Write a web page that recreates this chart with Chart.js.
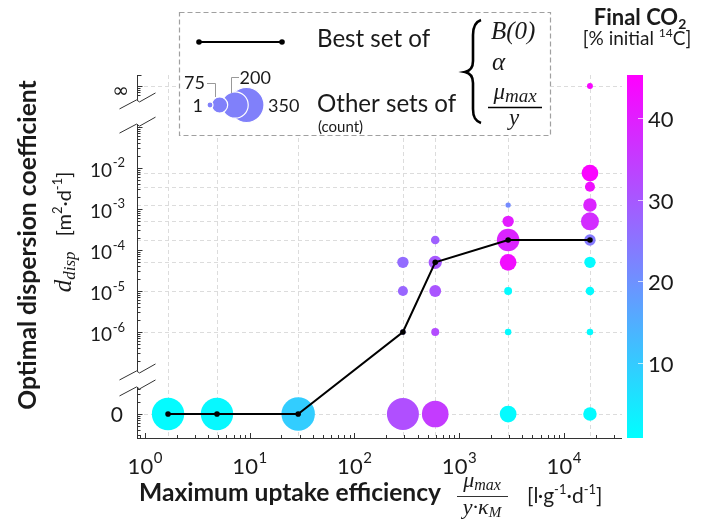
<!DOCTYPE html>
<html>
<head>
<meta charset="utf-8">
<script src="https://cdn.jsdelivr.net/npm/chart.js@4.4.1/dist/chart.umd.min.js"></script>
<style>
  html, body { margin: 0; padding: 0; background: #fff; }
  canvas { display: block; }
</style>
</head>
<body>
<canvas id="c" width="702" height="524"></canvas>
<script>
// uptake efficiency columns + best-fit dispersion coefficient (0 = none, Infinity = inf)
const effX = [1.66, 4.87, 29, 290, 590, 2930, 17700];
const bestD = [0, 0, 0, 1e-6, 5e-5, 1.75e-4, 1.75e-4];

// other parameter sets: position, count and final CO2 (% of initial 14C)
const setX = [1.66, 4.87, 29,
  290, 290, 290, 290,
  590, 590, 590, 590, 590,
  2930, 2930, 2930, 2930, 2930, 2930, 2930,
  17700, 17700, 17700, 17700, 17700, 17700, 17700, 17700, 17700, 17700];
const setD = [0, 0, 0,
  0, 1e-6, 1e-5, 5e-5,
  0, 1e-6, 1e-5, 5e-5, 1.75e-4,
  0, 1e-6, 1e-5, 5e-5, 1.75e-4, 5e-4, 1.25e-3,
  0, 1e-6, 1e-5, 5e-5, 1.75e-4, 5e-4, 1.25e-3, 3.5e-3, 7.5e-3, Infinity];
const setCount = [300, 300, 320,
  293, 8, 29, 37,
  203, 18, 40, 50, 21,
  80, 12, 18, 80, 145, 37, 8,
  52, 12, 21, 37, 37, 93, 52, 29, 80, 10];
const setCO2 = [1.5, 2.0, 9.5,
  31.5, 24, 27.5, 26.5,
  35, 32, 30.5, 30, 28.5,
  1.5, 1.5, 1.5, 43, 39, 40.5, 21,
  1.5, 1.5, 1.5, 1.5, 24, 37.5, 39, 42.5, 44.5, 44];

const xDecades = [0, 1, 2, 3, 4];
const yDecades = [-2, -3, -4, -5, -6];
const co2Ticks = [10, 20, 30, 40];
const co2Min = 0.8, co2Max = 45.3;
const legendCounts = [350, 200, 75, 1];

const SANS = 'Lato, "Open Sans", sans-serif';
const SERIF = '"Liberation Serif", "DejaVu Serif", serif';

// broken axis: d=0 sits at -8, d=inf at 0, others at log10(d)
function yPos(d) {
  if (d === 0) return -8;
  if (!isFinite(d)) return 0;
  return Math.log10(d);
}
function rOf(n) { return Math.max(2.5, 0.935 * Math.sqrt(n)); }
function cool(v) {
  let t = (v - co2Min) / (co2Max - co2Min);
  t = Math.max(0, Math.min(1, t));
  return 'rgb(' + Math.round(255 * t) + ',' + Math.round(255 * (1 - t)) + ',255)';
}

function rich(ctx, parts, x, y, align) {
  let w = 0;
  parts.forEach(p => { ctx.font = p[1]; w += ctx.measureText(p[0]).width; });
  let cx = align === 'center' ? x - w / 2 : align === 'right' ? x - w : x;
  ctx.textAlign = 'left';
  ctx.textBaseline = 'alphabetic';
  parts.forEach(p => {
    ctx.font = p[1];
    ctx.fillText(p[0], cx, y + (p[2] || 0));
    cx += ctx.measureText(p[0]).width;
  });
  return w;
}
function fitSize(ctx, s, weight, target) {
  ctx.font = weight + ' 20px ' + SANS;
  return 20 * target / ctx.measureText(s).width;
}
function pow10(ctx, e, x, y, size, align) {
  const es = Math.round(size * 0.68);
  rich(ctx, [['10', size + 'px ' + SANS], [' ', '2px ' + SANS], [String(e), es + 'px ' + SANS, -size * 0.5]], x, y, align);
}
function seg(ctx, x1, y1, x2, y2) {
  ctx.beginPath(); ctx.moveTo(x1, y1); ctx.lineTo(x2, y2); ctx.stroke();
}

const yGaps = [[-0.34, -0.93], [-6.95, -7.34]];

const gridPlugin = {
  id: 'grid',
  beforeDatasetsDraw(chart) {
    const ctx = chart.ctx, xs = chart.scales.x, ys = chart.scales.y, a = chart.chartArea;
    ctx.save();
    ctx.strokeStyle = '#dcdcdc';
    ctx.lineWidth = 1;
    ctx.setLineDash([4, 3]);
    const rows = [...new Set(setD.concat(bestD).map(yPos))];
    rows.forEach(u => {
      const py = Math.round(ys.getPixelForValue(u)) + 0.5;
      seg(ctx, a.left, py, a.right, py);
    });
    effX.forEach(x => {
      const px = Math.round(xs.getPixelForValue(x)) + 0.5;
      seg(ctx, px, a.top, px, a.bottom);
    });
    ctx.restore();
  }
};

const decor = {
  id: 'decor',
  afterDraw(chart) {
    const ctx = chart.ctx, xs = chart.scales.x, ys = chart.scales.y, a = chart.chartArea;
    ctx.save();
    ctx.strokeStyle = '#333';
    ctx.fillStyle = '#1a1a1a';
    ctx.lineWidth = 1;

    // x axis + log ticks
    seg(ctx, a.left, a.bottom + 0.5, a.right, a.bottom + 0.5);
    for (let e = -1; e <= 4; e++) {
      for (let k = 1; k <= 9; k++) {
        const v = k * Math.pow(10, e);
        if (v < xs.min || v > xs.max) continue;
        const px = Math.round(xs.getPixelForValue(v)) + 0.5;
        seg(ctx, px, a.bottom, px, a.bottom - (k === 1 ? 5 : 3));
      }
    }
    xDecades.forEach(e => pow10(ctx, e, xs.getPixelForValue(Math.pow(10, e)), 474, 22, 'center'));

    // y axis with breaks
    const ax = a.left + 0.5;
    const gapPx = yGaps.map(g => [ys.getPixelForValue(g[0]), ys.getPixelForValue(g[1])]);
    seg(ctx, ax, a.top, ax, gapPx[0][0]);
    seg(ctx, ax, gapPx[0][1], ax, gapPx[1][0]);
    seg(ctx, ax, gapPx[1][1], ax, a.bottom + 0.5);
    seg(ctx, ax, a.top + 0.5, ax + 4, a.top + 0.5);
    for (let e = -9; e <= 0; e++) {
      for (let k = 1; k <= 9; k++) {
        const u = e + Math.log10(k);
        if (u > ys.max || u < ys.min) continue;
        if (yGaps.some(g => u < g[0] + 0.05 && u > g[1] - 0.05)) continue;
        const py = Math.round(ys.getPixelForValue(u)) + 0.5;
        seg(ctx, ax, py, ax + (k === 1 ? 5 : 3), py);
      }
    }
    gapPx.forEach(g => {
      g.forEach(py => {
        ctx.beginPath();
        ctx.moveTo(ax - 18, py + 9);
        ctx.lineTo(ax - 1, py);
        ctx.lineTo(ax + 2, py + 2);
        ctx.lineTo(ax + 18, py - 7);
        ctx.stroke();
      });
    });
    yDecades.forEach(e => pow10(ctx, e, 125, ys.getPixelForValue(e) + 9, 19, 'right'));
    ctx.font = '21px ' + SANS;
    ctx.textAlign = 'right';
    ctx.textBaseline = 'alphabetic';
    ctx.fillText('0', 123, ys.getPixelForValue(yPos(0)) + 8);
    ctx.font = '20px "DejaVu Sans", sans-serif';
    ctx.textBaseline = 'middle';
    ctx.fillText('\u221e', 129, ys.getPixelForValue(yPos(Infinity)) + 6);

    // axis titles
    let fs = fitSize(ctx, 'Maximum uptake efficiency', 'bold', 302);
    rich(ctx, [['Maximum uptake efficiency', 'bold ' + fs.toFixed(1) + 'px ' + SANS]], 139, 501, 'left');
    rich(ctx, [['\u03bc', 'italic 22px ' + SERIF], ['max', 'italic 16px ' + SERIF, 3]], 482, 487, 'center');
    ctx.lineWidth = 1.2;
    seg(ctx, 457, 496.5, 508, 496.5);
    rich(ctx, [['y\u00b7\u03ba', 'italic 22px ' + SERIF], ['M', 'italic 15px ' + SERIF, 3]], 482, 514, 'center');
    rich(ctx, [['[l\u00b7g', '21px ' + SANS], ['-1', '13px ' + SANS, -9], ['\u00b7d', '21px ' + SANS], ['-1', '13px ' + SANS, -9], [']', '21px ' + SANS]], 527, 503, 'left');

    fs = fitSize(ctx, 'Optimal dispersion coefficient', 'bold', 330);
    ctx.save();
    ctx.translate(36, 245);
    ctx.rotate(-Math.PI / 2);
    rich(ctx, [['Optimal dispersion coefficient', 'bold ' + fs.toFixed(1) + 'px ' + SANS]], 0, 0, 'center');
    ctx.restore();
    ctx.save();
    ctx.translate(71, 232);
    ctx.rotate(-Math.PI / 2);
    rich(ctx, [['d', 'italic 25px ' + SERIF], ['disp', 'italic 17px ' + SERIF, 4], ['   [m', '20px ' + SANS],
      ['2', '13px ' + SANS, -9], ['\u00b7d', '20px ' + SANS], ['-1', '13px ' + SANS, -9], [']', '20px ' + SANS]], 0, 0, 'center');
    ctx.restore();

    // legend box
    ctx.fillStyle = '#fff';
    ctx.fillRect(179, 12, 372, 124);
    ctx.setLineDash([5, 3]);
    ctx.strokeStyle = '#a0a0a0';
    ctx.lineWidth = 1.2;
    ctx.strokeRect(179.5, 12.5, 371, 123);
    ctx.setLineDash([]);
    ctx.strokeStyle = '#000';
    ctx.lineWidth = 2;
    seg(ctx, 199, 42, 282, 42);
    ctx.fillStyle = '#000';
    [199, 282].forEach(x => { ctx.beginPath(); ctx.arc(x, 42, 2.8, 0, Math.PI * 2); ctx.fill(); });
    ctx.fillStyle = '#1a1a1a';
    fs = fitSize(ctx, 'Best set of', '', 113);
    rich(ctx, [['Best set of', fs.toFixed(1) + 'px ' + SANS]], 317, 47, 'left');
    rich(ctx, [['Other sets of', fs.toFixed(1) + 'px ' + SANS]], 317, 112, 'left');
    rich(ctx, [['(count)', '15px ' + SANS]], 318, 132, 'left');

    // bubble size key
    const keyX = { 350: 246.5, 200: 235, 75: 219.6, 1: 210 };
    legendCounts.forEach(n => {
      ctx.beginPath();
      ctx.arc(keyX[n], 105, n === 1 ? 3 : rOf(n), 0, Math.PI * 2);
      ctx.fillStyle = 'rgb(128,128,250)';
      ctx.fill();
      ctx.strokeStyle = '#fff';
      ctx.lineWidth = 1.2;
      ctx.stroke();
    });
    ctx.strokeStyle = '#999';
    ctx.lineWidth = 1;
    ctx.beginPath(); ctx.moveTo(207, 83.5); ctx.lineTo(215.5, 83.5); ctx.lineTo(215.5, 97); ctx.stroke();
    ctx.beginPath(); ctx.moveTo(239, 77.5); ctx.lineTo(231.5, 77.5); ctx.lineTo(231.5, 93); ctx.stroke();
    ctx.fillStyle = '#1a1a1a';
    rich(ctx, [['75', '18px ' + SANS]], 205, 89, 'right');
    rich(ctx, [['200', '18px ' + SANS]], 239.5, 84, 'left');
    rich(ctx, [['1', '18px ' + SANS]], 203, 112, 'right');
    rich(ctx, [['350', '18px ' + SANS]], 268, 112, 'left');

    // brace + parameter names
    ctx.strokeStyle = '#000';
    ctx.lineWidth = 2.6;
    ctx.beginPath();
    ctx.moveTo(481, 20);
    ctx.bezierCurveTo(475, 22, 473, 27, 473, 35);
    ctx.lineTo(473, 61);
    ctx.bezierCurveTo(473, 68, 470, 71, 465, 72);
    ctx.bezierCurveTo(470, 73, 473, 76, 473, 83);
    ctx.lineTo(473, 109);
    ctx.bezierCurveTo(473, 117, 475, 121, 481, 123);
    ctx.stroke();
    ctx.fillStyle = '#1a1a1a';
    rich(ctx, [['B(0)', 'italic 25px ' + SERIF]], 491, 39, 'left');
    rich(ctx, [['\u03b1', 'italic 25px ' + SERIF]], 492, 70, 'left');
    rich(ctx, [['\u03bc', 'italic 23px ' + SERIF], ['max', 'italic 19px ' + SERIF, 3]], 515, 99, 'center');
    ctx.lineWidth = 1.3;
    seg(ctx, 488, 107.5, 542, 107.5);
    rich(ctx, [['y', 'italic 23px ' + SERIF]], 514, 125, 'center');

    // colour bar
    const cx0 = 627, cw = 16;
    const grad = ctx.createLinearGradient(0, a.bottom, 0, a.top);
    grad.addColorStop(0, cool(co2Min));
    grad.addColorStop(1, cool(co2Max));
    ctx.fillStyle = grad;
    ctx.fillRect(cx0, a.top, cw, a.bottom - a.top);
    ctx.strokeStyle = 'rgba(255,255,255,0.7)';
    ctx.lineWidth = 1;
    ctx.fillStyle = '#1a1a1a';
    co2Ticks.forEach(v => {
      const py = Math.round(a.bottom - (v - co2Min) / (co2Max - co2Min) * (a.bottom - a.top)) + 0.5;
      seg(ctx, cx0 + cw - 5, py, cx0 + cw, py);
      rich(ctx, [[String(v), '22px ' + SANS]], 648, py + 8, 'left');
    });
    rich(ctx, [['Final CO', 'bold 22px ' + SANS], ['2', 'bold 14px ' + SANS, 4]], 640, 25, 'center');
    rich(ctx, [['[% initial ', '19px ' + SANS], ['14', '12px ' + SANS, -8], ['C]', '19px ' + SANS]], 637, 45, 'center');
    ctx.restore();
  }
};

const bubbles = setX.map((x, i) => ({ x: x, y: yPos(setD[i]) }));
const best = effX.map((x, i) => ({ x: x, y: yPos(bestD[i]) }));

new Chart(document.getElementById('c').getContext('2d'), {
  type: 'scatter',
  data: {
    datasets: [
      {
        type: 'line',
        data: best,
        borderColor: '#000',
        borderWidth: 2,
        pointRadius: 2.8,
        pointBackgroundColor: '#000',
        pointBorderWidth: 0,
        tension: 0,
        order: 0
      },
      {
        data: bubbles,
        pointRadius: setCount.map(rOf),
        backgroundColor: setCO2.map(cool),
        borderWidth: 0,
        order: 1
      }
    ]
  },
  options: {
    responsive: false,
    animation: false,
    devicePixelRatio: 1,
    events: [],
    layout: { padding: { left: 137, right: 80, top: 75, bottom: 86 } },
    plugins: { legend: { display: false }, tooltip: { enabled: false } },
    scales: {
      x: { type: 'logarithmic', min: 0.839, max: 35800, display: false },
      y: { type: 'linear', min: -8.585, max: 0.268, display: false }
    }
  },
  plugins: [gridPlugin, decor]
});
</script>
</body>
</html>
